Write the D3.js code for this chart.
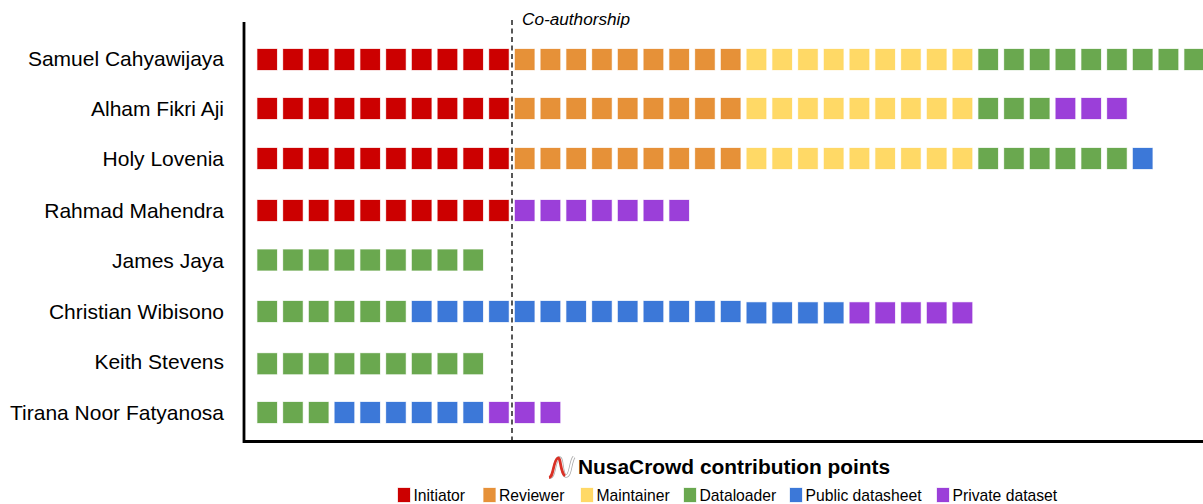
<!DOCTYPE html>
<html>
<head>
<meta charset="utf-8">
<script src="https://cdn.jsdelivr.net/npm/d3@7"></script>
<style>
  html, body { margin: 0; padding: 0; background: #fff; }
  svg { display: block; }
  text { font-family: "Liberation Sans", Arial, sans-serif; fill: #000; }
</style>
</head>
<body>
<div id="chart"></div>
<script>
var authors = ["Samuel Cahyawijaya", "Alham Fikri Aji", "Holy Lovenia", "Rahmad Mahendra",
    "James Jaya", "Christian Wibisono", "Keith Stevens", "Tirana Noor Fatyanosa"];
var roles = ["Initiator", "Reviewer", "Maintainer", "Dataloader", "Public datasheet", "Private dataset"];
var roleColors = ["#cc0000", "#e69138", "#ffd966", "#6aa84f", "#3c78d8", "#9b3fd9"];

// points per author, same order as authors
var initiator  = [10, 10, 10, 10, 0, 0, 0, 0];
var reviewer   = [9, 9, 9, 0, 0, 0, 0, 0];
var maintainer = [9, 9, 9, 0, 0, 0, 0, 0];
var dataloader = [9, 3, 6, 0, 9, 6, 9, 3];
var datasheet  = [0, 0, 1, 0, 0, 17, 0, 6];
var dataset    = [0, 3, 0, 7, 0, 5, 0, 3];
var coAuthorshipAt = 10;

var width = 1203, height = 504;
// rows are not evenly spaced in the original, labels drift a little from the squares too
var rowCenters = [59.5, 108.5, 158.5, 210.5, 260, 311.5, 363.7, 412.5];
var labelCenters = [59, 108.7, 159, 210.3, 261, 311.6, 361.6, 412.6];

var counts = [initiator, reviewer, maintainer, dataloader, datasheet, dataset];
var points = [];
authors.forEach(function(name, a) {
    var n = 0;
    roles.forEach(function(role, r) {
        d3.range(counts[r][a]).forEach(function() {
            points.push({author: name, role: role, slot: n++});
        });
    });
});

var step = 25.75, inner = 0.24;
var x = d3.scaleBand()
    .domain(d3.range(38))
    .range([257.4, 257.4 + (38 - inner) * step])
    .paddingInner(inner)
    .align(0);

var y = d3.scaleOrdinal()
    .domain(authors)
    .range(rowCenters);

var yLabels = d3.scaleOrdinal()
    .domain(authors)
    .range(labelCenters);

var color = d3.scaleOrdinal()
    .domain(roles)
    .range(roleColors);

var svg = d3.select("#chart").append("svg")
    .attr("width", width)
    .attr("height", height);

var squareH = 21;
// the Christian Wibisono row sits a pixel lower from slot 19 on in the original
function rowShift(d) {
    return d.author === "Christian Wibisono" && d.slot >= 19 ? 1.3 : 0;
}
svg.append("g").selectAll("rect")
    .data(points)
    .join("rect")
    .attr("x", function(d) { return x(d.slot); })
    .attr("y", function(d) { return y(d.author) - squareH / 2 + rowShift(d); })
    .attr("width", x.bandwidth())
    .attr("height", squareH)
    .attr("fill", function(d) { return color(d.role); })
    .attr("stroke", function(d) { return color(d.role); })
    .attr("stroke-opacity", 0.25)
    .attr("stroke-width", 1);

// co-authorship marker
var dashX = x(coAuthorshipAt) - 2.9;
svg.append("line")
    .attr("x1", dashX).attr("x2", dashX)
    .attr("y1", 20).attr("y2", 441)
    .attr("stroke", "#111")
    .attr("stroke-width", 1.4)
    .attr("stroke-dasharray", "5,3.5");

svg.append("text")
    .attr("x", 522)
    .attr("y", 24.5)
    .attr("font-size", 17.2)
    .attr("font-style", "italic")
    .text("Co-authorship");

var yAxis = d3.axisLeft(yLabels).tickSize(0).tickPadding(20);
var axisG = svg.append("g")
    .attr("transform", "translate(244,0)")
    .call(yAxis);
axisG.select(".domain").remove();
axisG.selectAll("text")
    .attr("font-size", 21)
    .style("font-family", "\"Liberation Sans\", Arial, sans-serif")
    .style("fill", "#000");

svg.append("path")
    .attr("d", "M244,22V441.5H1203")
    .attr("fill", "none")
    .attr("stroke", "#000")
    .attr("stroke-width", 2.8);

// title with little logo
var logo = svg.append("g").attr("transform", "translate(547,456)").attr("fill", "none");
var swoop = "M3,21 C8,21 7,3 12,2 C16,1 14,19 19,20 C24,20 23,6 27,1";
logo.append("path")
    .attr("d", swoop)
    .attr("stroke", "#aaa").attr("stroke-width", 3.4);
logo.append("path")
    .attr("d", swoop)
    .attr("stroke", "#fff").attr("stroke-width", 1.8);
logo.append("path")
    .attr("d", "M2,21.5 C7,21 6,4 11,2 C14,1 13,16 18,20")
    .attr("stroke", "#d93025").attr("stroke-width", 2.8);

svg.append("text")
    .attr("x", 578)
    .attr("y", 474)
    .attr("font-size", 20.9)
    .attr("font-weight", "bold")
    .text("NusaCrowd contribution points");

// legend
var legendX = d3.scaleOrdinal()
    .domain(roles)
    .range([398, 483.5, 581, 684, 790, 937]);

var legend = svg.append("g").selectAll("g")
    .data(roles)
    .join("g")
    .attr("transform", function(d) { return "translate(" + legendX(d) + ",488)"; });

legend.append("rect")
    .attr("width", 12)
    .attr("height", 14)
    .attr("fill", function(d) { return color(d); })
    .attr("stroke", function(d) { return color(d); })
    .attr("stroke-opacity", 0.25);

legend.append("text")
    .attr("x", 15.5)
    .attr("y", 13)
    .attr("font-size", 15.7)
    .text(function(d) { return d; });
</script>
</body>
</html>
